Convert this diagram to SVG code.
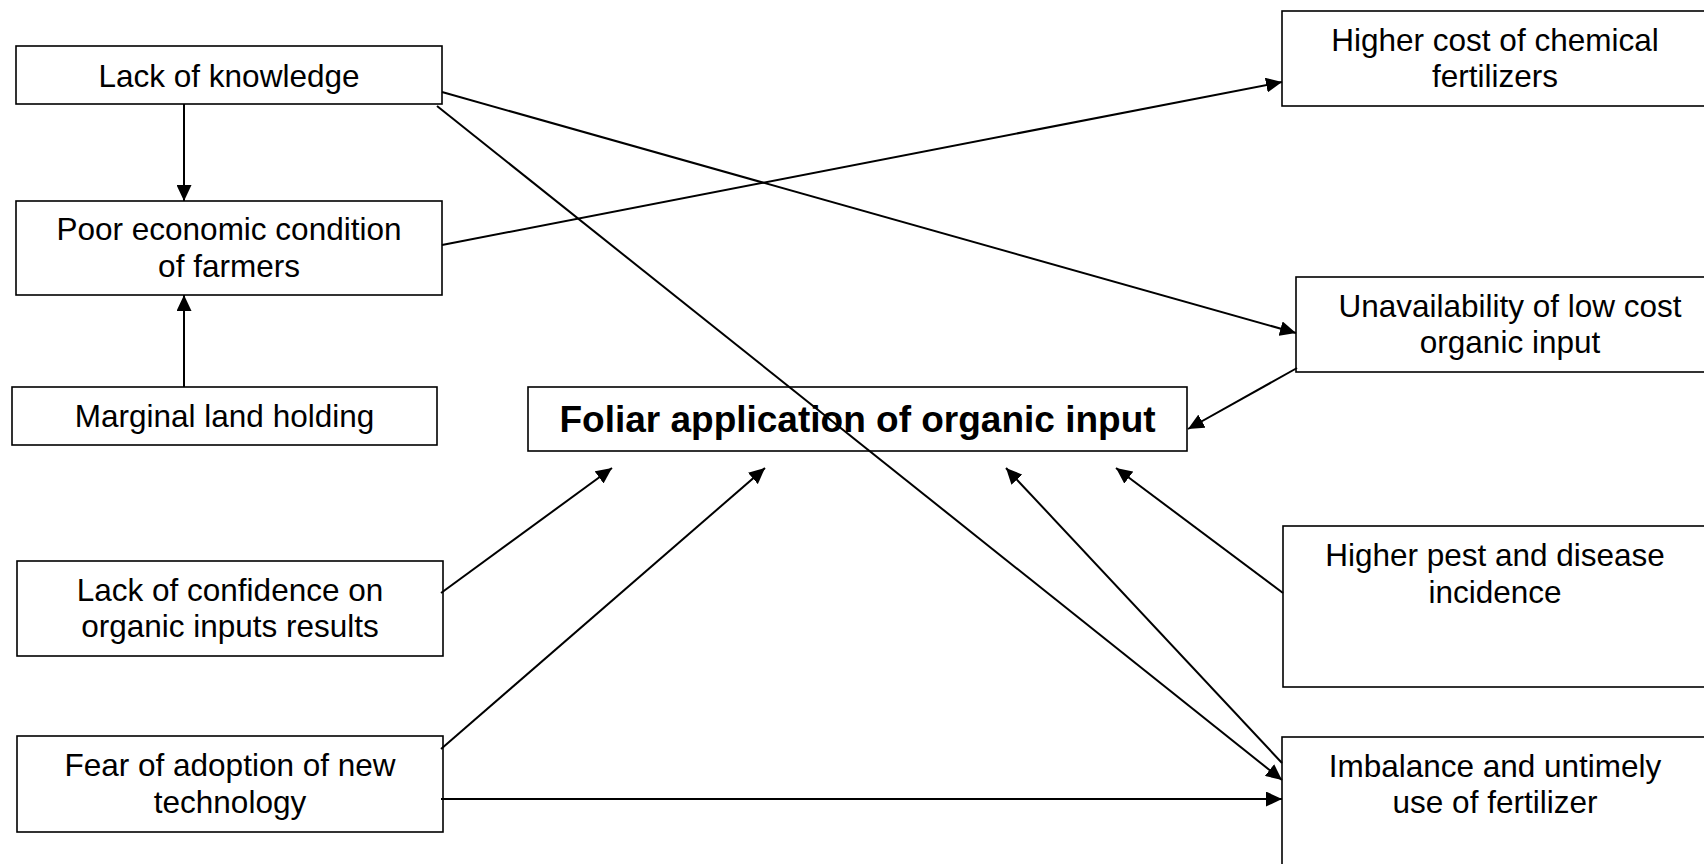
<svg xmlns="http://www.w3.org/2000/svg" width="1704" height="864" viewBox="0 0 1704 864">
<style>
.box{fill:#fff;stroke:#000;stroke-width:1.6}
.t{font-family:"Liberation Sans",Arial,sans-serif;font-size:31.5px;fill:#000;text-anchor:middle}
.title{font-family:"Liberation Sans",Arial,sans-serif;font-size:37px;font-weight:bold;fill:#000;text-anchor:middle}
.c{stroke:#000;stroke-width:2;fill:none}
.a{marker-end:url(#arr)}
</style>
<defs>
<marker id="arr" markerUnits="userSpaceOnUse" markerWidth="17" markerHeight="15" refX="16" refY="7.5" orient="auto">
<path d="M0,0 L16,7.5 L0,15 z" fill="#000"/>
</marker>
</defs>
<rect width="1704" height="864" fill="#fff"/>
<g id="n-knowledge"><rect class="box" x="16" y="46" width="426" height="58"/><text class="t" x="229" y="87">Lack of knowledge</text></g>
<g id="n-poor"><rect class="box" x="16" y="201" width="426" height="94"/><text class="t" x="229" y="240">Poor economic condition</text><text class="t" x="229" y="277">of farmers</text></g>
<g id="n-marginal"><rect class="box" x="12" y="387" width="425" height="58"/><text class="t" x="224.5" y="427">Marginal land holding</text></g>
<g id="n-confidence"><rect class="box" x="17" y="561" width="426" height="95"/><text class="t" x="230" y="601">Lack of confidence on</text><text class="t" x="230" y="637">organic inputs results</text></g>
<g id="n-fear"><rect class="box" x="17" y="736" width="426" height="96"/><text class="t" x="230" y="776">Fear of adoption of new</text><text class="t" x="230" y="813">technology</text></g>
<g id="n-foliar"><rect class="box" x="528" y="387" width="659" height="64"/><text class="title" x="857.5" y="432">Foliar application of organic input</text></g>
<g id="n-cost"><rect class="box" x="1282" y="11" width="428" height="95"/><text class="t" x="1495" y="51">Higher cost of chemical</text><text class="t" x="1495" y="87">fertilizers</text></g>
<g id="n-unavail"><rect class="box" x="1296" y="277" width="428" height="95"/><text class="t" x="1510" y="317">Unavailability of low cost</text><text class="t" x="1510" y="353">organic input</text></g>
<g id="n-pest"><rect class="box" x="1283" y="526" width="428" height="161"/><text class="t" x="1495" y="566">Higher pest and disease</text><text class="t" x="1495" y="603">incidence</text></g>
<g id="n-imbalance"><rect class="box" x="1282" y="737" width="428" height="140"/><text class="t" x="1495" y="777">Imbalance and untimely</text><text class="t" x="1495" y="813">use of fertilizer</text></g>
<g id="connectors">
<line class="c a" x1="184" y1="104" x2="184" y2="201"/>
<line class="c a" x1="184" y1="387" x2="184" y2="295"/>
<line class="c a" x1="442" y1="92" x2="1296" y2="333"/>
<line class="c a" x1="437" y1="106" x2="1282" y2="780"/>
<line class="c a" x1="442" y1="245" x2="1282" y2="82"/>
<line class="c a" x1="1297" y1="368" x2="1188" y2="429"/>
<line class="c a" x1="441" y1="593" x2="612" y2="468"/>
<line class="c a" x1="441" y1="749" x2="765" y2="468"/>
<line class="c a" x1="1282" y1="763" x2="1006" y2="468"/>
<line class="c a" x1="1283" y1="593" x2="1116" y2="468"/>
<line class="c a" x1="441" y1="799" x2="1282" y2="799"/>
</g>
</svg>
